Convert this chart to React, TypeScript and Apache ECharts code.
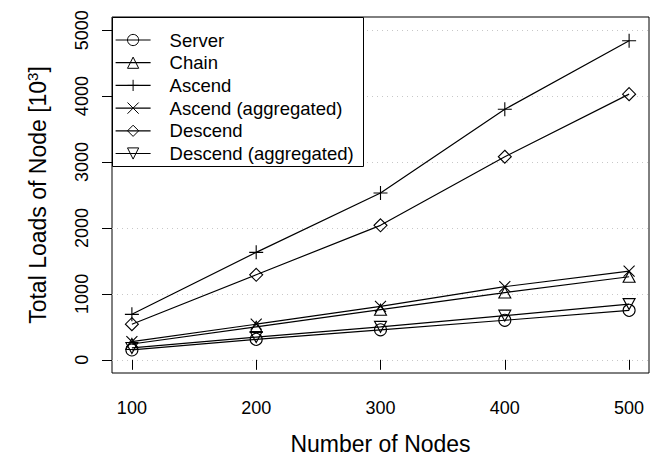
import React, { useEffect, useRef } from "react";
import * as echarts from "echarts";

const nodes = [100, 200, 300, 400, 500];
const server = [150, 310, 455, 600, 750];
const chain = [240, 500, 760, 1020, 1260];
const ascend = [690, 1630, 2530, 3800, 4840];
const ascendAgg = [275, 540, 810, 1110, 1345];
const descend = [540, 1290, 2040, 3080, 4030];
const descendAgg = [180, 345, 500, 670, 845];

const seriesNames = [
  "Server",
  "Chain",
  "Ascend",
  "Ascend (aggregated)",
  "Descend",
  "Descend (aggregated)",
];
const xTicks = [100, 200, 300, 400, 500];
const yTicks = [0, 1000, 2000, 3000, 4000, 5000];

const FONT = '"Liberation Sans", Arial, Helvetica, sans-serif';

const SYM = {
  circle: "circle",
  triUp: "path://M6,0L12,10.4L0,10.4Z",
  plus: "path://M0,6L12,6M6,0L6,12",
  cross: "path://M0,0L12,12M12,0L0,12",
  diamond: "path://M6,0L12,6L6,12L0,6Z",
  triDown: "path://M0,0L12,0L6,10.4Z",
};

export default function App() {
  const ref = useRef<HTMLDivElement>(null);

  useEffect(() => {
    document.body.style.margin = "0";
    if (!ref.current) return;
    const chart = echarts.init(ref.current, null, { renderer: "svg" });

    const defs = [
      { name: seriesNames[0], vals: server, symbol: SYM.circle, size: 12 },
      { name: seriesNames[1], vals: chain, symbol: SYM.triUp, size: [12, 11] },
      { name: seriesNames[2], vals: ascend, symbol: SYM.plus, size: 14 },
      { name: seriesNames[3], vals: ascendAgg, symbol: SYM.cross, size: 11 },
      { name: seriesNames[4], vals: descend, symbol: SYM.diamond, size: 13 },
      { name: seriesNames[5], vals: descendAgg, symbol: SYM.triDown, size: [12, 11] },
    ];

    const series = defs.map((d) => ({
      name: d.name,
      type: "line",
      data: nodes.map((x, i) => [x, d.vals[i]]),
      symbol: d.symbol,
      symbolSize: d.size,
      showAllSymbol: true,
      lineStyle: { color: "#000", width: 1.2 },
      itemStyle: { color: "transparent", borderColor: "#000", borderWidth: 1.1 },
      emphasis: { disabled: true },
      z: 2,
    }));

    chart.setOption({
      animation: false,
      backgroundColor: "#fff",
      grid: {
        left: 112,
        right: 11,
        top: 17,
        bottom: 90,
        show: true,
        borderColor: "#000",
        borderWidth: 1,
        backgroundColor: "transparent",
      },
      xAxis: {
        type: "value",
        min: 84,
        max: 516,
        axisLine: { show: false },
        axisTick: {
          show: true,
          length: 10,
          lineStyle: { color: "#000", width: 1 },
          customValues: xTicks,
        },
        axisLabel: {
          customValues: xTicks,
          color: "#000",
          fontSize: 18,
          fontFamily: FONT,
          margin: 26,
          formatter: (v: number) => String(v),
        },
        splitLine: { show: false },
      },
      yAxis: {
        type: "value",
        min: -200,
        max: 5200,
        axisLine: { show: false },
        axisTick: {
          show: true,
          length: 10,
          lineStyle: { color: "#000", width: 1 },
          customValues: yTicks,
        },
        axisLabel: {
          customValues: yTicks,
          color: "#000",
          fontSize: 18,
          fontFamily: FONT,
          rotate: 90,
          margin: 21,
          formatter: (v: number) => String(v),
        },
        splitLine: {
          show: true,
          lineStyle: { color: "#c8c8c8", type: [1, 4], width: 1 },
        },
      },
      legend: {
        orient: "vertical",
        left: 115,
        top: 30.5,
        padding: 0,
        itemWidth: 35,
        itemHeight: 14,
        itemGap: 3.7,
        selectedMode: false,
        data: seriesNames,
        textStyle: {
          fontSize: 18.5,
          fontFamily: FONT,
          color: "#000",
          padding: [0, 0, 0, 14],
        },
        itemStyle: { color: "transparent", borderColor: "#000", borderWidth: 1 },
        lineStyle: { color: "#000", width: 1.2 },
        z: 4,
      },
      graphic: [
        {
          type: "rect",
          z: 3,
          shape: { x: 112.5, y: 17.5, width: 251, height: 149 },
          style: { fill: "#fff", stroke: "#000", lineWidth: 1 },
        },
        {
          type: "text",
          x: 380.5,
          y: 444,
          style: {
            text: "Number of Nodes",
            fontSize: 23,
            fontFamily: FONT,
            fill: "#000",
            align: "center",
            verticalAlign: "middle",
          },
        },
        {
          type: "text",
          x: 38,
          y: 195,
          rotation: Math.PI / 2,
          style: {
            text: "Total Loads of Node [10{sup|3}]",
            fontSize: 23,
            fontFamily: FONT,
            fill: "#000",
            align: "center",
            verticalAlign: "middle",
            rich: {
              sup: {
                fontSize: 15,
                fontFamily: FONT,
                fill: "#000",
                padding: [0, 0, 11, 0],
              },
            },
          },
        },
      ],
      series,
    });

    return () => chart.dispose();
  }, []);

  return <div ref={ref} style={{ width: 660, height: 463 }} />;
}
